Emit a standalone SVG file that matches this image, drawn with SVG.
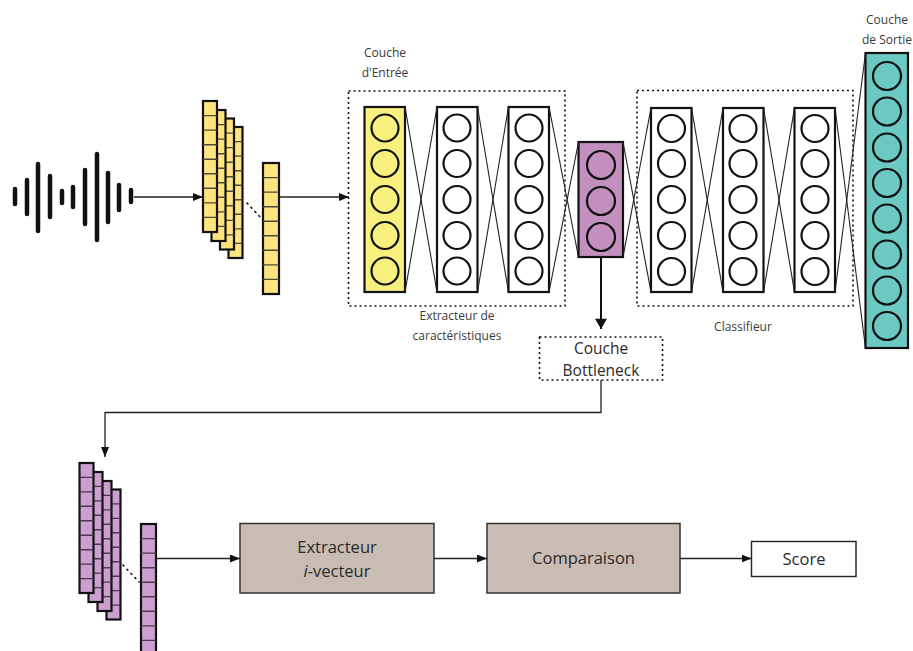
<svg xmlns="http://www.w3.org/2000/svg" xmlns:xlink="http://www.w3.org/1999/xlink" width="913" height="651" viewBox="0 0 913 651">
<style>
.lbl{font-family:"Open Sans","Noto Sans","Liberation Sans",sans-serif;font-size:12px;fill:#3a3a3a;text-anchor:middle}
.big{font-family:"Open Sans","Noto Sans","Liberation Sans",sans-serif;font-size:16.5px;fill:#2a2a2a;text-anchor:middle}
.bn{font-size:15.5px}
.dash{fill:none;stroke:#111;stroke-width:1.6;stroke-dasharray:2 3}
.layer{stroke:#111;stroke-width:2.2}
.neuron{fill:none;stroke:#111;stroke-width:2.2}
.x{stroke:#222;stroke-width:1.1;fill:none}
.wave{stroke:#111;stroke-width:4.5;stroke-linecap:round}
.conn{stroke:#222;stroke-width:1.3;fill:none}
.proc{fill:#c8bcb3;stroke:#333;stroke-width:1.5}
.dots{stroke:#111;stroke-width:1.6;stroke-dasharray:1.2 4.6;stroke-linecap:round;fill:none}
</style>
<defs>
<marker id="ah" viewBox="0 0 10 8" refX="10" refY="4" markerWidth="10" markerHeight="8" markerUnits="userSpaceOnUse" orient="auto">
<path d="M0 0L10 4L0 8z" fill="#111"/>
</marker>
<marker id="ahbig" viewBox="0 0 12 14" refX="12" refY="7" markerWidth="14" markerHeight="12" markerUnits="userSpaceOnUse" orient="auto">
<path d="M0 0L12 7L0 14z" fill="#111"/>
</marker>
<g id="ycol">
<rect x="0" y="0" width="14" height="131" fill="#fde47f" stroke="#111" stroke-width="2.2"/>
<path d="M0 14.6H14M0 29.1H14M0 43.7H14M0 58.2H14M0 72.8H14M0 87.3H14M0 101.9H14M0 116.4H14" stroke="#4a4a3a" stroke-width="1.4"/>
</g>
<g id="pcol">
<rect x="0" y="0" width="14" height="130" fill="#cc9fd0" stroke="#111" stroke-width="2.2"/>
<path d="M0 14.4H14M0 28.9H14M0 43.3H14M0 57.8H14M0 72.2H14M0 86.7H14M0 101.1H14M0 115.6H14" stroke="#4a3a4a" stroke-width="1.4"/>
</g>
</defs>
<rect width="913" height="651" fill="#fff"/>

<g id="waveform">
<line class="wave" x1="15" y1="189" x2="15" y2="204"/>
<line class="wave" x1="27" y1="180" x2="27" y2="214"/>
<line class="wave" x1="38" y1="164" x2="38" y2="231"/>
<line class="wave" x1="50" y1="176" x2="50" y2="217"/>
<line class="wave" x1="62" y1="191" x2="62" y2="203"/>
<line class="wave" x1="73" y1="187" x2="73" y2="207"/>
<line class="wave" x1="85" y1="170" x2="85" y2="224"/>
<line class="wave" x1="97" y1="154" x2="97" y2="240"/>
<line class="wave" x1="108" y1="173" x2="108" y2="222"/>
<line class="wave" x1="119" y1="185" x2="119" y2="210"/>
<line class="wave" x1="131" y1="190" x2="131" y2="202"/>
</g>

<g id="yellow-frames">
<use xlink:href="#ycol" x="228.5" y="127"/>
<use xlink:href="#ycol" x="220" y="118.5"/>
<use xlink:href="#ycol" x="211.5" y="110"/>
<use xlink:href="#ycol" x="203" y="101"/>
<path class="dots" d="M247 203L262 219"/>
</g>
<g id="yellow-vector">
<rect x="263" y="163" width="16" height="131" fill="#fde47f" stroke="#111" stroke-width="2.2"/>
<path d="M263 177.6H279M263 192.1H279M263 206.7H279M263 221.2H279M263 235.8H279M263 250.3H279M263 264.9H279M263 279.4H279" stroke="#4a4a3a" stroke-width="1.4"/>
</g>

<g id="feature-extractor">
<rect class="dash" x="348.5" y="91" width="216.5" height="215"/>
<text class="lbl" x="457" y="320">Extracteur de</text>
<text class="lbl" x="457" y="340">caractéristiques</text>
</g>
<g id="classifier">
<rect class="dash" x="637" y="90.5" width="216" height="215.5"/>
<text class="lbl" x="743" y="331">Classifieur</text>
</g>

<g id="input-layer">
<rect class="layer" x="364.5" y="107" width="40.5" height="185" fill="#f7f07f"/>
<circle class="neuron" cx="385" cy="128" r="13.5"/>
<circle class="neuron" cx="385" cy="163.5" r="13.5"/>
<circle class="neuron" cx="385" cy="199.5" r="13.5"/>
<circle class="neuron" cx="385" cy="235.5" r="13.5"/>
<circle class="neuron" cx="385" cy="271" r="13.5"/>
<text class="lbl" x="385" y="57">Couche</text>
<text class="lbl" x="385" y="77">d'Entrée</text>
</g>
<g id="hidden-1">
<rect class="layer" x="437" y="107" width="40.5" height="185" fill="#fff"/>
<circle class="neuron" cx="457" cy="128" r="13.5"/>
<circle class="neuron" cx="457" cy="163.5" r="13.5"/>
<circle class="neuron" cx="457" cy="199.5" r="13.5"/>
<circle class="neuron" cx="457" cy="235.5" r="13.5"/>
<circle class="neuron" cx="457" cy="271" r="13.5"/>
</g>
<g id="hidden-2">
<rect class="layer" x="508.5" y="107" width="40.5" height="185" fill="#fff"/>
<circle class="neuron" cx="529" cy="128" r="13.5"/>
<circle class="neuron" cx="529" cy="163.5" r="13.5"/>
<circle class="neuron" cx="529" cy="199.5" r="13.5"/>
<circle class="neuron" cx="529" cy="235.5" r="13.5"/>
<circle class="neuron" cx="529" cy="271" r="13.5"/>
</g>
<g id="bottleneck-layer">
<rect class="layer" x="578.5" y="142" width="44.5" height="115" fill="#c38fbf" stroke="#333"/>
<circle class="neuron" cx="601" cy="165" r="14"/>
<circle class="neuron" cx="601" cy="201" r="14"/>
<circle class="neuron" cx="601" cy="237" r="14"/>
</g>
<g id="classifier-1">
<rect class="layer" x="651" y="108" width="40.5" height="184" fill="#fff"/>
<circle class="neuron" cx="671.5" cy="128.5" r="13.5"/>
<circle class="neuron" cx="671.5" cy="163.5" r="13.5"/>
<circle class="neuron" cx="671.5" cy="199.5" r="13.5"/>
<circle class="neuron" cx="671.5" cy="235.5" r="13.5"/>
<circle class="neuron" cx="671.5" cy="271.5" r="13.5"/>
</g>
<g id="classifier-2">
<rect class="layer" x="723" y="108" width="40.5" height="184" fill="#fff"/>
<circle class="neuron" cx="743" cy="128.5" r="13.5"/>
<circle class="neuron" cx="743" cy="163.5" r="13.5"/>
<circle class="neuron" cx="743" cy="199.5" r="13.5"/>
<circle class="neuron" cx="743" cy="235.5" r="13.5"/>
<circle class="neuron" cx="743" cy="271.5" r="13.5"/>
</g>
<g id="classifier-3">
<rect class="layer" x="794.5" y="108" width="40.5" height="184" fill="#fff"/>
<circle class="neuron" cx="815" cy="128.5" r="13.5"/>
<circle class="neuron" cx="815" cy="163.5" r="13.5"/>
<circle class="neuron" cx="815" cy="199.5" r="13.5"/>
<circle class="neuron" cx="815" cy="235.5" r="13.5"/>
<circle class="neuron" cx="815" cy="271.5" r="13.5"/>
</g>
<g id="output-layer">
<rect class="layer" x="865.5" y="53" width="42.5" height="295" fill="#6cc8c3" stroke="#333"/>
<circle class="neuron" cx="887" cy="76" r="14"/>
<circle class="neuron" cx="887" cy="111.5" r="14"/>
<circle class="neuron" cx="887" cy="147.5" r="14"/>
<circle class="neuron" cx="887" cy="183" r="14"/>
<circle class="neuron" cx="887" cy="218.5" r="14"/>
<circle class="neuron" cx="887" cy="254.5" r="14"/>
<circle class="neuron" cx="887" cy="290.5" r="14"/>
<circle class="neuron" cx="887" cy="326" r="14"/>
<text class="lbl" x="887" y="24">Couche</text>
<text class="lbl" x="887" y="44">de Sortie</text>
</g>

<g id="bottleneck-label">
<rect class="dash" x="539.5" y="337" width="123" height="43"/>
<text class="big bn" x="601" y="354">Couche</text>
<text class="big bn" x="601" y="375.5">Bottleneck</text>
</g>

<g id="purple-frames">
<use xlink:href="#pcol" x="106.5" y="489.5"/>
<use xlink:href="#pcol" x="97.5" y="481"/>
<use xlink:href="#pcol" x="88.5" y="472"/>
<use xlink:href="#pcol" x="79.5" y="463"/>
<path class="dots" d="M123 565L139 582"/>
</g>
<g id="purple-vector">
<rect x="141" y="524" width="15" height="131" fill="#cc9fd0" stroke="#111" stroke-width="2.2"/>
<path d="M141 538.6H156M141 553.1H156M141 567.7H156M141 582.2H156M141 596.8H156M141 611.3H156M141 625.9H156M141 640.4H156" stroke="#4a3a4a" stroke-width="1.4"/>
</g>

<g id="ivector-extractor">
<rect class="proc" x="240" y="523.5" width="194" height="69.5"/>
<text class="big" x="337" y="553">Extracteur</text>
<text class="big" x="337" y="577"><tspan font-style="italic">i</tspan>-vecteur</text>
</g>
<g id="comparison">
<rect class="proc" x="487" y="523.5" width="193" height="69.5"/>
<text class="big" x="583.5" y="564">Comparaison</text>
</g>
<g id="score">
<rect x="751.5" y="541.5" width="104.5" height="35" fill="#fff" stroke="#222" stroke-width="1.4"/>
<text class="big" x="804" y="565">Score</text>
</g>

<g id="connectors">
<line class="x" x1="405" y1="107" x2="437" y2="292"/>
<line class="x" x1="405" y1="292" x2="437" y2="107"/>
<line class="x" x1="477.5" y1="107" x2="508.5" y2="292"/>
<line class="x" x1="477.5" y1="292" x2="508.5" y2="107"/>
<line class="x" x1="549" y1="107" x2="578.5" y2="257"/>
<line class="x" x1="549" y1="292" x2="578.5" y2="142"/>
<line class="x" x1="623" y1="142" x2="651" y2="292"/>
<line class="x" x1="623" y1="257" x2="651" y2="108"/>
<line class="x" x1="691.5" y1="108" x2="723" y2="292"/>
<line class="x" x1="691.5" y1="292" x2="723" y2="108"/>
<line class="x" x1="763.5" y1="108" x2="794.5" y2="292"/>
<line class="x" x1="763.5" y1="292" x2="794.5" y2="108"/>
<line class="x" x1="835" y1="108" x2="865.5" y2="348"/>
<line class="x" x1="835" y1="292" x2="865.5" y2="53"/>
<line class="conn" x1="134" y1="197" x2="203" y2="197" marker-end="url(#ah)"/>
<line class="conn" x1="279" y1="197" x2="349" y2="197" marker-end="url(#ah)"/>
<line x1="601" y1="257" x2="601" y2="329" stroke="#111" stroke-width="2" marker-end="url(#ahbig)"/>
<path class="conn" d="M601 380V412.5H105V457" marker-end="url(#ah)"/>
<line class="conn" x1="156" y1="558.5" x2="240" y2="558.5" marker-end="url(#ah)"/>
<line class="conn" x1="434" y1="558.5" x2="487" y2="558.5" marker-end="url(#ah)"/>
<line class="conn" x1="680" y1="558.5" x2="751.5" y2="558.5" marker-end="url(#ah)"/>
</g>
</svg>
